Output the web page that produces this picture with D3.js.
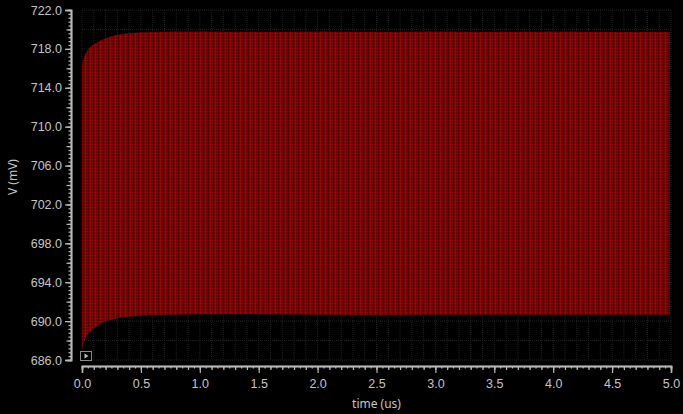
<!DOCTYPE html>
<html>
<head>
<meta charset="utf-8">
<script src="https://cdn.jsdelivr.net/npm/d3@7"></script>
<style>
	html, body { margin: 0; padding: 0; background: #000; }
	svg { display: block; }
</style>
</head>
<body>
<div class="chart"></div>
<script>
// Envelope of the oscillating node voltage.
var timeUs = [0, 0.01, 0.03, 0.05, 0.08, 0.12, 0.16, 0.2, 0.25, 0.3, 0.4, 0.5, 0.6, 0.8, 1.0, 1.5, 2.0, 2.5, 3.0, 3.5, 4.0, 4.5, 4.99];
var upperMv = [716.3, 716.9, 717.5, 717.9, 718.3, 718.6, 718.9, 719.1, 719.3, 719.45, 719.6, 719.7, 719.75, 719.8, 719.8, 719.75, 719.8, 719.75, 719.8, 719.75, 719.8, 719.75, 719.75];
var lowerMv = [687.0, 687.6, 688.2, 688.6, 689.0, 689.4, 689.75, 689.95, 690.15, 690.3, 690.45, 690.55, 690.6, 690.65, 690.7, 690.7, 690.65, 690.6, 690.65, 690.65, 690.65, 690.65, 690.65];
var yTicks = [686, 690, 694, 698, 702, 706, 710, 714, 718, 722];
var xTicks = [0, 0.5, 1, 1.5, 2, 2.5, 3, 3.5, 4, 4.5, 5];

var textColor = '#c4c4c4',
	axisColor = '#b8b8b8',
	gridColor = '#222',
	fontSize = '12.5px';

var width = 683, height = 414;
var x = d3.scaleLinear().domain([0, 5]).range([82, 671]);
var y = d3.scaleLinear().domain([686, 722]).range([360, 10]);

var svg = d3.select('.chart').append('svg')
	.attr('width', width)
	.attr('height', height)
	.attr('font-family', '"Noto Sans", "Open Sans", sans-serif')
	.style('background', '#000');

// Stripy dark-red texture for the dense waveform.
var defs = svg.append('defs');
var pat = defs.append('pattern')
	.attr('id', 'wave')
	.attr('patternUnits', 'userSpaceOnUse')
	.attr('width', 5)
	.attr('height', 3);
pat.append('rect').attr('width', 5).attr('height', 3).attr('fill', '#6a0303');
pat.append('rect').attr('x', 0).attr('width', 1).attr('height', 3).attr('fill', '#8e0808');
pat.append('rect').attr('x', 3).attr('width', 1).attr('height', 3).attr('fill', '#4a0202');
pat.append('rect').attr('y', 0).attr('width', 5).attr('height', 1).attr('fill', '#a80c0c').attr('opacity', 0.35);

// Grid.
var gridX = d3.range(0, 5.001, 0.1);
var gridY = d3.range(686, 722.001, 2);
var grid = svg.append('g');
grid.selectAll('.gx').data(gridX).enter().append('line')
	.attr('x1', function(d) { return x(d); })
	.attr('x2', function(d) { return x(d); })
	.attr('y1', y(722))
	.attr('y2', y(686))
	.attr('stroke', gridColor)
	.attr('stroke-dasharray', '1,1');
grid.selectAll('.gy').data(gridY).enter().append('line')
	.attr('x1', x(0))
	.attr('x2', x(5))
	.attr('y1', function(d) { return y(d); })
	.attr('y2', function(d) { return y(d); })
	.attr('stroke', gridColor)
	.attr('stroke-dasharray', '1,1');

// Waveform band.
var band = timeUs.map(function(t, i) {
	return {t: t, hi: upperMv[i], lo: lowerMv[i]};
});
svg.append('path')
	.datum(band)
	.attr('d', d3.area()
		.x(function(d) { return x(d.t); })
		.y0(function(d) { return y(d.lo); })
		.y1(function(d) { return y(d.hi); })
		.curve(d3.curveMonotoneX))
	.attr('fill', 'url(#wave)');

// Small marker box in the corner.
svg.append('rect')
	.attr('x', 80.5).attr('y', 351.5).attr('width', 11).attr('height', 9)
	.attr('fill', '#000').attr('stroke', '#8a8a8a');
svg.append('path')
	.attr('d', 'M84.5,353.5 L88.5,356 L84.5,358.5 Z')
	.attr('fill', '#bbb');

function styleAxis(g) {
	g.select('.domain').attr('stroke', axisColor).attr('stroke-width', 1.5);
	g.selectAll('.tick line').attr('stroke', axisColor).attr('stroke-width', 1.2);
	g.selectAll('.tick text').attr('fill', textColor).attr('font-size', fontSize);
}

// Y axis: minor, mid and major ticks.
var yAxisX = 71;
svg.append('g')
	.attr('transform', 'translate(' + yAxisX + ',0)')
	.call(d3.axisLeft(y).tickValues(d3.range(686, 722.001, 0.4)).tickSize(2.5).tickFormat(''))
	.call(styleAxis);
svg.append('g')
	.attr('transform', 'translate(' + yAxisX + ',0)')
	.call(d3.axisLeft(y).tickValues(d3.range(686, 722.001, 2)).tickSize(4.5).tickFormat(''))
	.call(styleAxis);
svg.append('g')
	.attr('transform', 'translate(' + yAxisX + ',0)')
	.call(d3.axisLeft(y).tickValues(yTicks).tickSize(6).tickPadding(3).tickFormat(d3.format('.1f')))
	.call(styleAxis);

// X axis.
var xAxisY = 366;
svg.append('g')
	.attr('transform', 'translate(0,' + xAxisY + ')')
	.call(d3.axisBottom(x).tickValues(d3.range(0, 5.001, 0.05)).tickSize(2.5).tickFormat(''))
	.call(styleAxis);
svg.append('g')
	.attr('transform', 'translate(0,' + xAxisY + ')')
	.call(d3.axisBottom(x).tickValues(d3.range(0, 5.001, 0.1)).tickSize(4).tickFormat(''))
	.call(styleAxis);
svg.append('g')
	.attr('transform', 'translate(0,' + xAxisY + ')')
	.call(d3.axisBottom(x).tickValues(xTicks).tickSize(7).tickPadding(6).tickFormat(d3.format('.1f')))
	.call(styleAxis);

// Axis titles.
svg.append('text')
	.attr('transform', 'translate(17,177) rotate(-90)')
	.attr('text-anchor', 'middle')
	.attr('fill', textColor)
	.attr('font-size', '12px')
	.text('V (mV)');
svg.append('text')
	.attr('x', x(2.5))
	.attr('y', 408)
	.attr('text-anchor', 'middle')
	.attr('fill', textColor)
	.attr('font-size', '12px')
	.text('time (us)');
</script>
</body>
</html>
